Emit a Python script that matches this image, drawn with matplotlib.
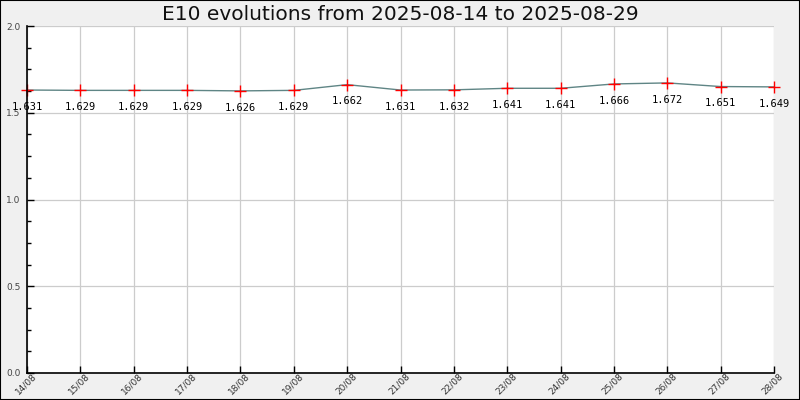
import matplotlib
matplotlib.use("Agg")
import matplotlib.pyplot as plt
from matplotlib.ticker import MultipleLocator
from matplotlib.patches import Rectangle
from matplotlib.transforms import ScaledTranslation

dates = ["14/08", "15/08", "16/08", "17/08", "18/08", "19/08", "20/08", "21/08",
         "22/08", "23/08", "24/08", "25/08", "26/08", "27/08", "28/08"]
prices = [1.631, 1.629, 1.629, 1.629, 1.626, 1.629, 1.662, 1.631,
          1.632, 1.641, 1.641, 1.666, 1.672, 1.651, 1.649]
title = "E10 evolutions from 2025-08-14 to 2025-08-29"

fig = plt.figure(figsize=(8, 4), dpi=100, facecolor="#f0f0f0")
fig.patches.append(Rectangle((0, 0), 1, 1, transform=fig.transFigure, fill=False,
                             edgecolor="black", linewidth=1.5, zorder=10))
ax = fig.add_axes([27/800, 27/400, (774-27)/800, (373-26)/400])
ax.set_facecolor("white")

x = list(range(len(dates)))
ax.plot(x, prices, color="#5f8585", linewidth=1.0, zorder=3)
ax.plot(x, prices, linestyle="none", marker="+", markersize=9, markeredgewidth=1.0,
        color="red", zorder=4, clip_on=False)
for xi, v in zip(x, prices):
    ax.annotate(f"{v:.3f}", (xi, v), xytext=(0, -12), textcoords="offset points",
                ha="center", va="center", fontsize=7.5, family="DejaVu Sans Mono",
                color="black", zorder=5)

ax.set_xlim(0, len(dates) - 1)
ax.set_ylim(0, 2.0)
ax.set_xticks(x)
ax.set_xticklabels(dates, rotation=45, ha="right", va="center",
                   rotation_mode="anchor", fontsize=6.5, color="#333333")
ax.yaxis.set_major_locator(MultipleLocator(0.5))
ax.yaxis.set_minor_locator(MultipleLocator(0.125))
ax.set_yticklabels([f"{t:.1f}" for t in ax.get_yticks()])
ax.tick_params(axis="y", which="major", direction="in", length=5, width=1,
               labelsize=6.5, labelcolor="#444444", pad=0)
ax.tick_params(axis="y", which="minor", direction="in", length=3, width=1)
ax.tick_params(axis="x", which="major", direction="in", length=5, width=1, pad=1)
shift = ScaledTranslation(8/100, 0, fig.dpi_scale_trans)
for lbl in ax.get_xticklabels():
    lbl.set_transform(lbl.get_transform() + shift)
for lbl in ax.get_yticklabels():
    lbl.set_horizontalalignment("left")
    lbl.set_x(-21/747)

ax.grid(True, which="major", color="#cccccc", linewidth=0.9)
ax.set_axisbelow(True)
for s in ["top", "right"]:
    ax.spines[s].set_visible(False)
for s in ["left", "bottom"]:
    ax.spines[s].set_color("black")
    ax.spines[s].set_linewidth(1.2)
    ax.spines[s].set_zorder(6)

fig.text(0.5, 1 - 15/400, title, ha="center", va="center", fontsize=14.5, color="#111111")

fig.savefig("out.png", dpi=100, facecolor=fig.get_facecolor())
